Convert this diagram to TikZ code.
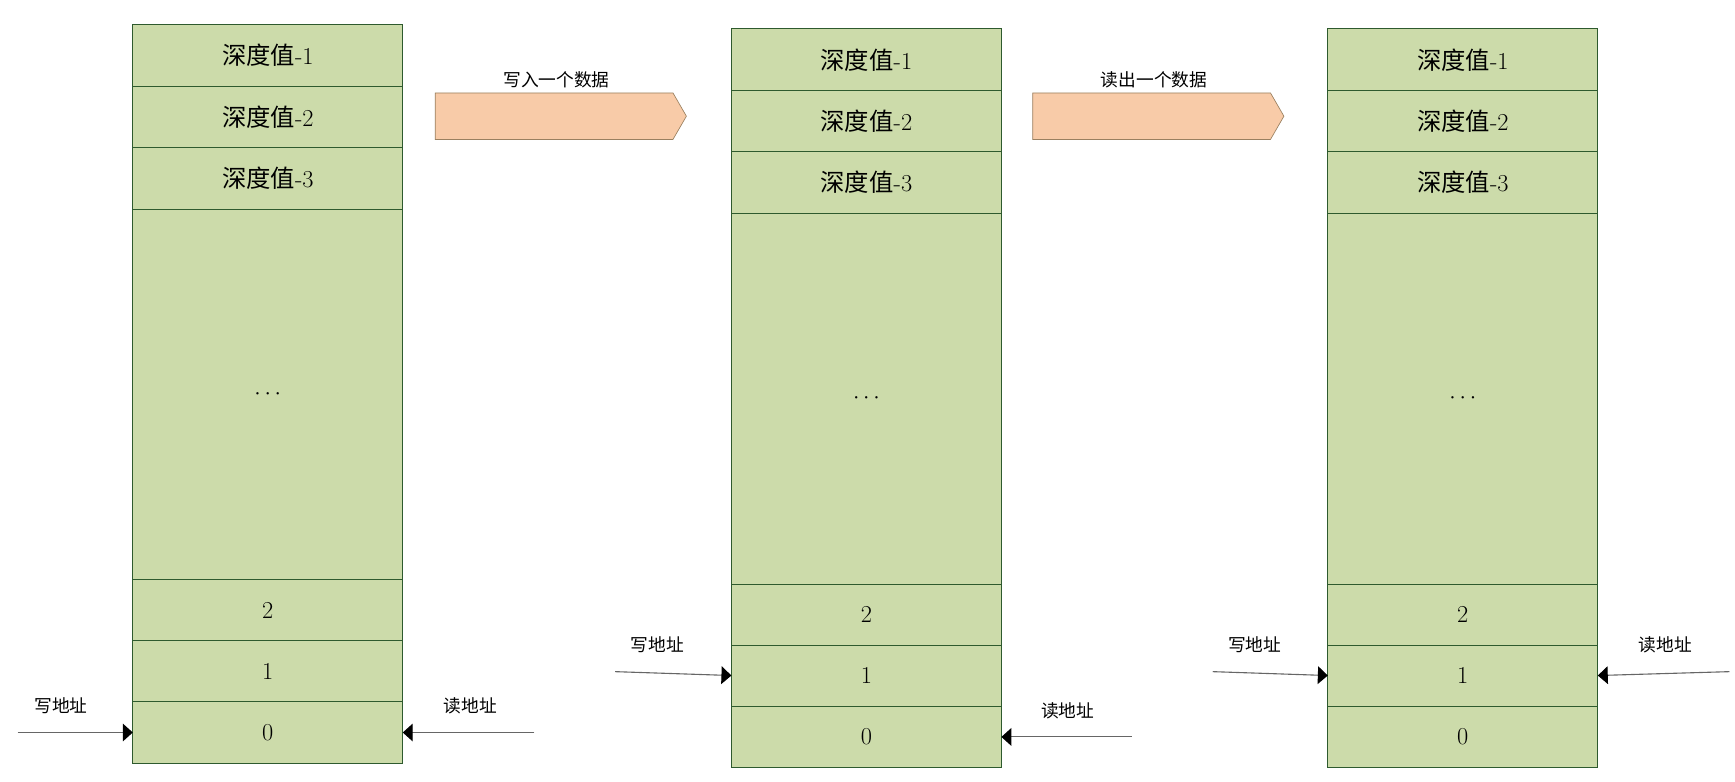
\documentclass[tikz,border=0pt]{standalone}
\usepackage{fontspec}
\newfontfamily\cjk{Noto Sans CJK SC}
\usetikzlibrary{arrows.meta,shapes.arrows}
\definecolor{cellg}{HTML}{CCDBAA}
\definecolor{celld}{HTML}{2E5A2E}
\definecolor{peach}{HTML}{F8CBA8}
\definecolor{peachd}{HTML}{9A8060}
\tikzset{
 cell/.style={draw=celld,fill=cellg,line width=0.8pt},
 celltxt/.style={font=\fontsize{22}{24}\selectfont},
 lbl/.style={font=\cjk\fontsize{16}{18}\selectfont},
 ptr/.style={draw=black!60,line width=1pt,-{Triangle[length=9pt,width=16pt,fill=black,color=black]}},
 blk/.style={single arrow,draw=peachd,fill=peach,minimum height=227pt,minimum width=42pt,single arrow head extend=0pt,single arrow head indent=0pt,inner sep=0pt,line width=0.6pt,shape border uses incircle=false,single arrow tip angle=120},
}
\newcommand{\fifo}[3]{% name, left x, top y
 \begin{scope}[shift={(#2,#3)}]
 \draw[cell] (0,0) rectangle (244,668);
 \foreach \y in {56,111,167,502,557,612} \draw[celld,line width=0.8pt] (0,\y)--(244,\y);
 \node[celltxt] (#1a) at (122,28) {{\cjk 深度值}-1};
 \node[celltxt] (#1b) at (122,83.5) {{\cjk 深度值}-2};
 \node[celltxt] (#1c) at (122,139) {{\cjk 深度值}-3};
 \node[celltxt] (#1d) at (122,334) {$\cdots$};
 \node[celltxt] (#1e) at (122,529.5) {2};
 \node[celltxt] (#1f) at (122,584.5) {1};
 \node[celltxt] (#1g) at (122,640) {0};
 \coordinate (#1L1) at (0,584.5); \coordinate (#1L0) at (0,640);
 \coordinate (#1R1) at (244,584.5); \coordinate (#1R0) at (244,640);
 \end{scope}}
\begin{document}
\begin{tikzpicture}[x=1pt,y=-1pt]
\useasboundingbox (0,0) rectangle (1568,706);
\fifo{A}{120}{22}
\fifo{B}{661}{26}
\fifo{C}{1200}{26}
% block arrows
\node[blk,anchor=west] (w) at (393,105) {};
\node[lbl] at (503,72) {写入一个数据};
\node[blk,anchor=west] (r) at (933,105) {};
\node[lbl] at (1043,72) {读出一个数据};
% pointers
\coordinate (a1) at (16,662); \coordinate (a2) at (483,662);
\draw[ptr] (a1) -- (AL0); \node[lbl] at (55,638) {写地址};
\draw[ptr] (a2) -- (AR0); \node[lbl] at (425,638) {读地址};
\coordinate (b1) at (556,607); \coordinate (b2) at (1023,666);
\draw[ptr] (b1) -- (BL1); \node[lbl] at (594,583) {写地址};
\draw[ptr] (b2) -- (BR0); \node[lbl] at (965,642) {读地址};
\coordinate (c1) at (1096,607); \coordinate (c2) at (1563,607);
\draw[ptr] (c1) -- (CL1); \node[lbl] at (1134,583) {写地址};
\draw[ptr] (c2) -- (CR1); \node[lbl] at (1505,583) {读地址};
\end{tikzpicture}
\end{document}
